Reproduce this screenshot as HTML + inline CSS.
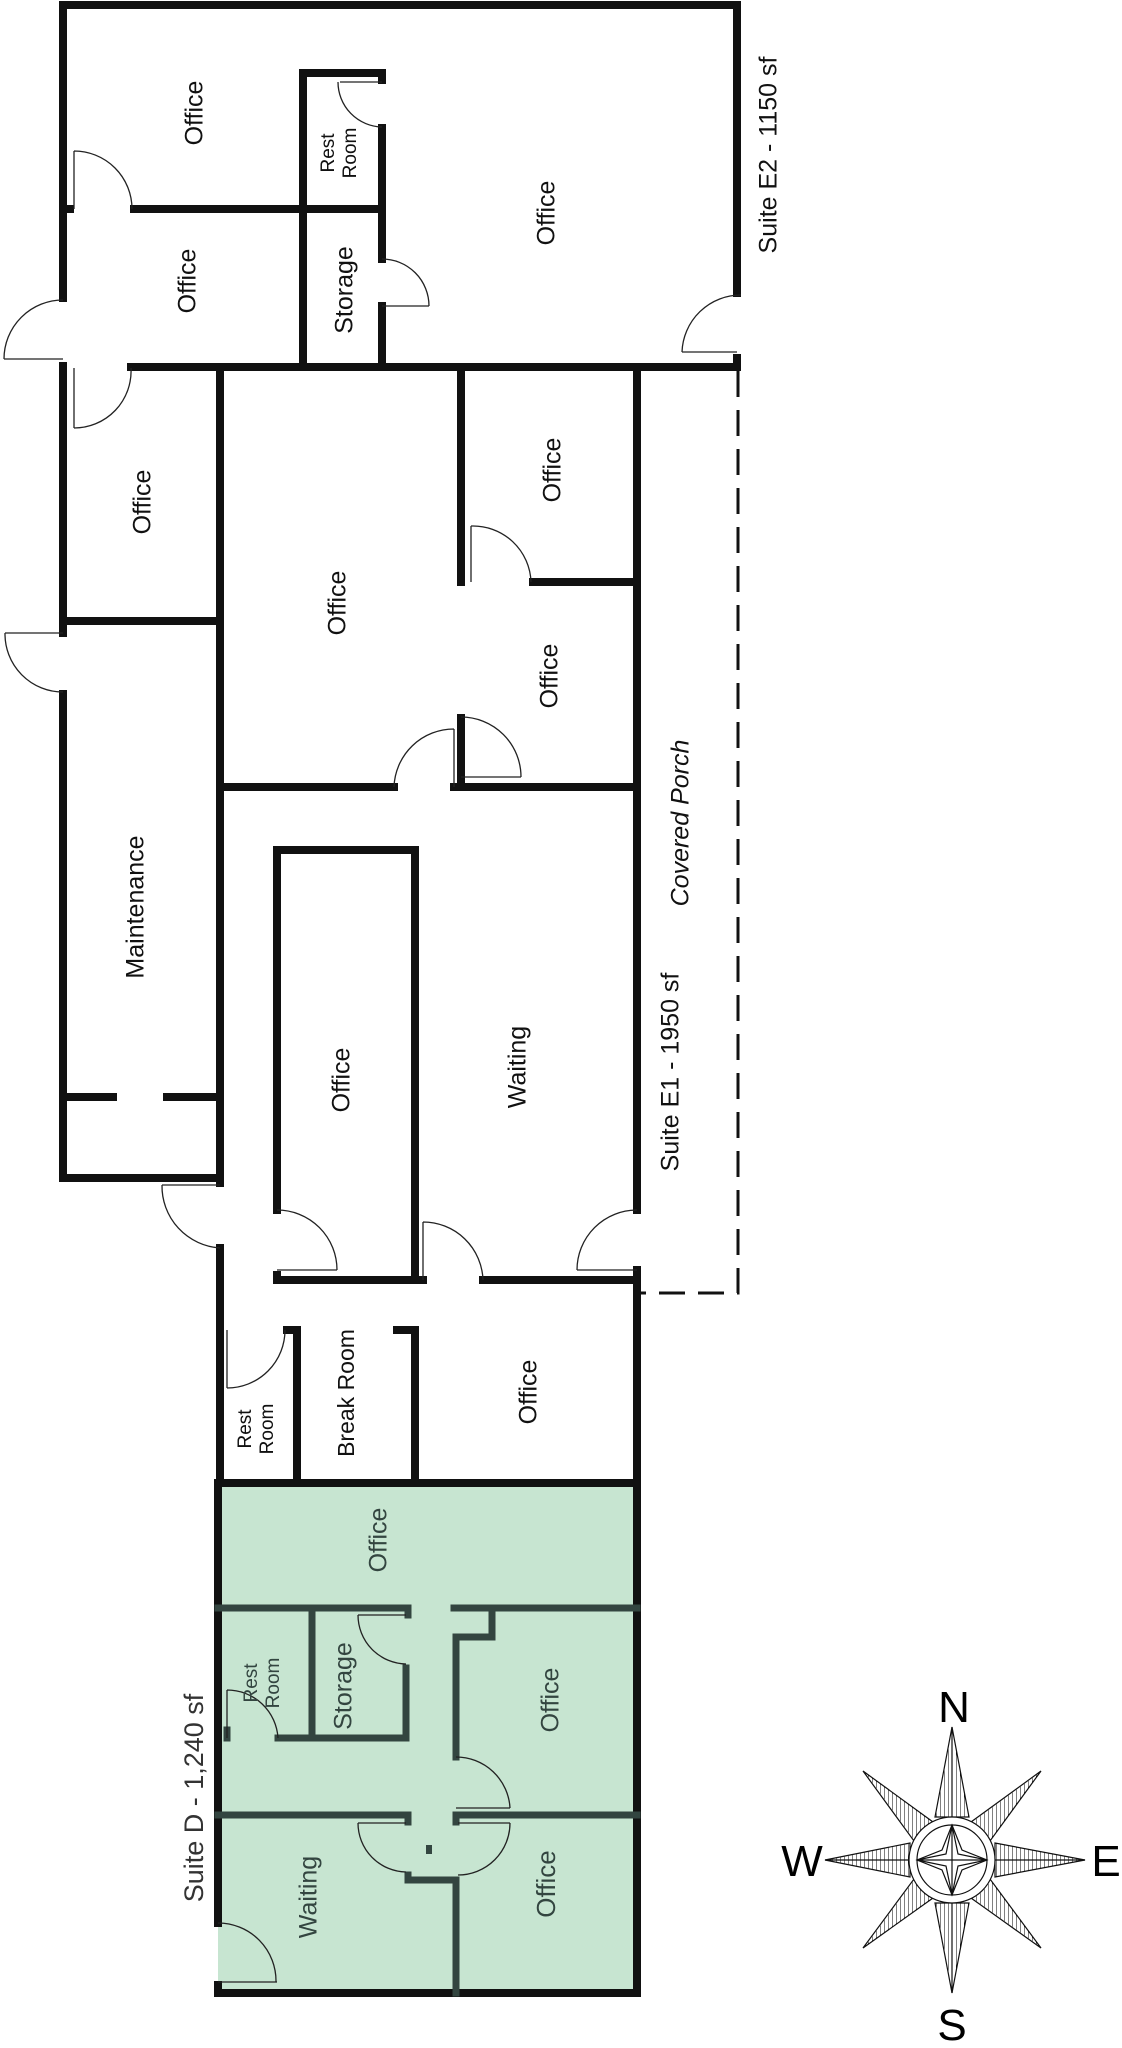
<!DOCTYPE html>
<html><head><meta charset="utf-8"><style>
html,body{margin:0;padding:0;background:#fff;}
svg{display:block;}
text{font-family:"Liberation Sans",sans-serif;}
</style></head><body>
<svg width="1122" height="2048" viewBox="0 0 1122 2048" xmlns="http://www.w3.org/2000/svg">
<defs>
<pattern id="h" width="4" height="4" patternUnits="userSpaceOnUse" patternTransform="rotate(0)">
<line x1="0" y1="0" x2="0" y2="4" stroke="#000" stroke-width="1"/>
</pattern>
</defs>
<!-- green suite -->
<rect x="218" y="1483" width="419" height="510" fill="#c7e5d1"/>

<g stroke="#111" stroke-width="8" fill="none" stroke-linecap="square">
<!-- top suite -->
<line x1="63" y1="5" x2="737" y2="5"/>
<line x1="737" y1="5" x2="737" y2="293"/>
<line x1="737" y1="358" x2="737" y2="367"/>
<line x1="63" y1="5" x2="63" y2="298"/>
<line x1="63" y1="366" x2="63" y2="633"/>
<line x1="63" y1="694" x2="63" y2="1178"/>
<line x1="63" y1="209" x2="70" y2="209"/>
<line x1="134" y1="209" x2="382" y2="209"/>
<line x1="303" y1="73" x2="303" y2="367"/>
<line x1="303" y1="73" x2="382" y2="73"/>
<line x1="382" y1="73" x2="382" y2="80"/>
<line x1="382" y1="128" x2="382" y2="259"/>
<line x1="382" y1="306" x2="382" y2="367"/>
<line x1="131" y1="367" x2="737" y2="367"/>
<!-- middle -->
<line x1="220" y1="367" x2="220" y2="1183"/>
<line x1="220" y1="1248" x2="220" y2="1483"/>
<line x1="63" y1="621" x2="220" y2="621"/>
<line x1="461" y1="367" x2="461" y2="582"/>
<line x1="461" y1="718" x2="461" y2="787"/>
<line x1="533" y1="582" x2="637" y2="582"/>
<line x1="637" y1="367" x2="637" y2="1210"/>
<line x1="637" y1="1270" x2="637" y2="1993"/>
<line x1="220" y1="787" x2="394" y2="787"/>
<line x1="454" y1="787" x2="637" y2="787"/>
<line x1="63" y1="1097" x2="113" y2="1097"/>
<line x1="167" y1="1097" x2="220" y2="1097"/>
<line x1="63" y1="1178" x2="220" y2="1178"/>
<line x1="277" y1="850" x2="415" y2="850"/>
<line x1="277" y1="850" x2="277" y2="1210"/>
<line x1="277" y1="1275" x2="277" y2="1280"/>
<line x1="277" y1="1280" x2="423" y2="1280"/>
<line x1="415" y1="850" x2="415" y2="1280"/>
<line x1="483" y1="1280" x2="637" y2="1280"/>
<!-- break row -->
<line x1="287" y1="1330" x2="297" y2="1330"/>
<line x1="297" y1="1330" x2="297" y2="1483"/>
<line x1="397" y1="1330" x2="415" y2="1330"/>
<line x1="415" y1="1330" x2="415" y2="1483"/>
<line x1="218" y1="1483" x2="637" y2="1483"/>
<!-- green outer -->
<line x1="218" y1="1483" x2="218" y2="1923"/>
<line x1="218" y1="1985" x2="218" y2="1993"/>
<line x1="218" y1="1993" x2="637" y2="1993"/>
</g>
<g stroke="#334540" stroke-width="7" fill="none" stroke-linecap="square">
<line x1="218" y1="1608" x2="408" y2="1608"/>
<line x1="408" y1="1608" x2="408" y2="1615"/>
<line x1="454" y1="1608" x2="637" y2="1608"/>
<line x1="492" y1="1608" x2="492" y2="1637"/>
<line x1="492" y1="1637" x2="456" y2="1637"/>
<line x1="456" y1="1637" x2="456" y2="1757"/>
<line x1="218" y1="1815" x2="408" y2="1815"/>
<line x1="408" y1="1815" x2="408" y2="1822"/>
<line x1="456" y1="1815" x2="637" y2="1815"/>
<line x1="456" y1="1815" x2="456" y2="1822"/>
<line x1="408" y1="1875" x2="408" y2="1880"/>
<line x1="408" y1="1880" x2="456" y2="1880"/>
<line x1="456" y1="1880" x2="456" y2="1993"/>
<line x1="312" y1="1608" x2="312" y2="1738"/>
<line x1="278" y1="1738" x2="406" y2="1738"/>
<line x1="406" y1="1668" x2="406" y2="1738"/>
<line x1="227" y1="1730" x2="227" y2="1738"/>
</g>
<rect x="426" y="1845" width="6" height="9" fill="#334540"/>

<!-- doors -->
<g stroke="#222" stroke-width="1.3" fill="none">
<path d="M741 295 A59 59 0 0 0 682 352 M682 352 H737"/>
<path d="M63 300 A59 59 0 0 0 4 359 M4 359 H63"/>
<path d="M74 368 V428 M74 428 A57 57 0 0 0 131 368"/>
<path d="M5 633 H63 M5 633 A58 58 0 0 0 63 692"/>
<path d="M74 151 V209 M74 151 A58 58 0 0 1 132 209"/>
<path d="M382 82 H340 M338 82 A45 45 0 0 0 382 127"/>
<path d="M382 259 A47 47 0 0 1 429 306 M382 306 H429"/>
<path d="M471 526 V582 M471 526 A58 58 0 0 1 531 582"/>
<path d="M454 729 V787 M454 729 A60 60 0 0 0 394 787"/>
<path d="M461 717 A60 60 0 0 1 521 777 M461 777 H521"/>
<path d="M162 1185 H220 M162 1185 A62 62 0 0 0 220 1248"/>
<path d="M277 1210 A60 60 0 0 1 337 1270 M277 1270 H337"/>
<path d="M423 1222 V1280 M423 1222 A60 60 0 0 1 483 1280"/>
<path d="M637 1210 A60 60 0 0 0 577 1270 M577 1270 H637"/>
<path d="M227 1330 V1388 M227 1388 A58 58 0 0 0 285 1330"/>
<path d="M218 1923 A58 58 0 0 1 276 1982 M218 1982 H277"/>
<path d="M227 1690 V1738 M227 1690 A51 51 0 0 1 278 1738"/>
<path d="M358 1615 H406 M358 1615 A49 49 0 0 0 406 1664"/>
<path d="M456 1757 A54 54 0 0 1 510 1808 M456 1808 H510"/>
<path d="M358 1823 H406 M358 1823 A49 49 0 0 0 406 1872"/>
<path d="M510 1823 H458 M510 1823 A52 52 0 0 1 458 1875"/>
</g>
<!-- porch dashed -->
<path d="M738 371 V1293 H640" stroke="#111" stroke-width="3" fill="none" stroke-dasharray="26,13"/>

<!-- labels -->
<g font-size="25" fill="#111" text-anchor="middle" dominant-baseline="middle">
<text transform="translate(196,113) rotate(-90)">Office</text>
<text transform="translate(339,153) rotate(-90)" font-size="19"><tspan x="0" dy="-10">Rest</tspan><tspan x="0" dy="22">Room</tspan></text>
<text transform="translate(189,281) rotate(-90)">Office</text>
<text transform="translate(346,290) rotate(-90)">Storage</text>
<text transform="translate(548,213) rotate(-90)">Office</text>
<text transform="translate(770,155) rotate(-90)">Suite E2 - 1150 sf</text>
<text transform="translate(144,502) rotate(-90)">Office</text>
<text transform="translate(339,603) rotate(-90)">Office</text>
<text transform="translate(554,470) rotate(-90)">Office</text>
<text transform="translate(551,676) rotate(-90)">Office</text>
<text transform="translate(137,907) rotate(-90)">Maintenance</text>
<text transform="translate(343,1080) rotate(-90)">Office</text>
<text transform="translate(519,1067) rotate(-90)">Waiting</text>
<text transform="translate(672,1072) rotate(-90)">Suite E1 - 1950 sf</text>
<text transform="translate(682,823) rotate(-90)" font-style="italic">Covered Porch</text>
<text transform="translate(256,1429) rotate(-90)" font-size="19"><tspan x="0" dy="-10">Rest</tspan><tspan x="0" dy="22">Room</tspan></text>
<text transform="translate(348,1393) rotate(-90)" font-size="23">Break Room</text>
<text transform="translate(530,1392) rotate(-90)">Office</text>
</g>
<g font-size="25" fill="#334540" text-anchor="middle" dominant-baseline="middle">
<text transform="translate(380,1540) rotate(-90)">Office</text>
<text transform="translate(262,1683) rotate(-90)" font-size="19"><tspan x="0" dy="-10">Rest</tspan><tspan x="0" dy="22">Room</tspan></text>
<text transform="translate(345,1686) rotate(-90)">Storage</text>
<text transform="translate(552,1700) rotate(-90)">Office</text>
<text transform="translate(196,1798) rotate(-90)" font-size="27" fill="#333">Suite D - 1,240 sf</text>
<text transform="translate(310,1897) rotate(-90)">Waiting</text>
<text transform="translate(548,1884) rotate(-90)" font-size="26">Office</text>
</g>

<!-- compass -->
<g stroke="#111" stroke-width="1.2" stroke-linejoin="miter">
<g fill="url(#h)">
<polygon points="952,1727 969,1817 935,1817"/>
<polygon points="952,1993 969,1903 935,1903"/>
<polygon points="825,1860 910,1843 910,1877"/>
<polygon points="1085,1860 995,1843 995,1877"/>
<polygon points="863,1771 933,1822 914,1841"/>
<polygon points="1041,1771 990,1841 971,1822"/>
<polygon points="863,1948 914,1879 933,1898"/>
<polygon points="1041,1948 971,1898 990,1879"/>
</g>
<line x1="952" y1="1727" x2="952" y2="1993"/>
<line x1="825" y1="1860" x2="1085" y2="1860"/>
<circle cx="952" cy="1860" r="43" fill="#fff"/>
<circle cx="952" cy="1860" r="35" fill="#fff"/>
<path d="M952 1825 L962 1850 L987 1860 L962 1870 L952 1895 L942 1870 L917 1860 L942 1850 Z" fill="none"/>
<path d="M952 1825 L946 1854 L917 1860 L946 1866 L952 1895 L958 1866 L987 1860 L958 1854 Z" fill="none"/>
<line x1="952" y1="1825" x2="952" y2="1895"/>
<line x1="917" y1="1860" x2="987" y2="1860"/>
</g>
<g font-size="44" fill="#000" text-anchor="middle">
<text x="954" y="1722">N</text>
<text x="952" y="2040">S</text>
<text x="802" y="1876">W</text>
<text x="1106" y="1876">E</text>
</g>
</svg>
</body></html>
